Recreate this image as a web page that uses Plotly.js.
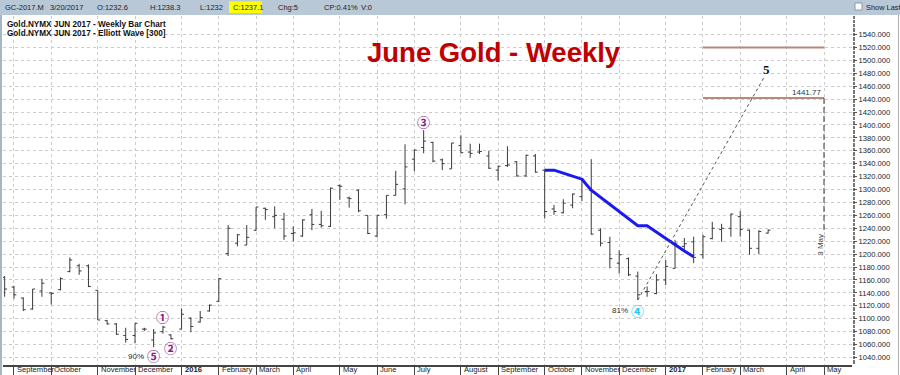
<!DOCTYPE html>
<html><head><meta charset="utf-8">
<script src="https://cdn.plot.ly/plotly-3.0.1.min.js"></script>
<style>html,body{margin:0;padding:0;background:#fff}#chart{width:900px;height:375px}</style>
</head><body><div id="chart"></div>
<script>
// ---- weekly bars (week ending Friday) ----
const dates = ["2015-08-28","2015-09-04","2015-09-11","2015-09-18","2015-09-25","2015-10-02","2015-10-09","2015-10-16","2015-10-23","2015-10-30",
"2015-11-06","2015-11-13","2015-11-20","2015-11-27","2015-12-04","2015-12-11","2015-12-18","2015-12-25","2015-12-31",
"2016-01-08","2016-01-15","2016-01-22","2016-01-29","2016-02-05","2016-02-12","2016-02-19","2016-02-26","2016-03-04","2016-03-11","2016-03-18","2016-03-25",
"2016-04-01","2016-04-08","2016-04-15","2016-04-22","2016-04-29","2016-05-06","2016-05-13","2016-05-20","2016-05-27","2016-06-03","2016-06-10","2016-06-17","2016-06-24",
"2016-07-01","2016-07-08","2016-07-15","2016-07-22","2016-07-29","2016-08-05","2016-08-12","2016-08-19","2016-08-26","2016-09-02","2016-09-09","2016-09-16","2016-09-23","2016-09-30",
"2016-10-07","2016-10-14","2016-10-21","2016-10-28","2016-11-04","2016-11-11","2016-11-18","2016-11-25","2016-12-02","2016-12-09","2016-12-16","2016-12-23","2016-12-30",
"2017-01-06","2017-01-13","2017-01-20","2017-01-27","2017-02-03","2017-02-10","2017-02-17","2017-02-24","2017-03-03","2017-03-10","2017-03-17","2017-03-24"];
const open  = [1164,1149,1132,1115,1143,1140,1145,1173,1182,1182, 1144,1097,1092,1074,1074,1084,1067,1080,1075,
 1084,1101,1095,1112,1127,1201,1217,1214,1237,1271,1258,1254, 1232,1228,1261,1246,1243,1306,1287,1299,1260,1228,1261,1291,1301,
 1347,1365,1373,1346,1332,1368,1358,1358,1352,1330,1337,1343,1321,1352, 1330,1270,1264,1276,1289,1299,1237,1218,1186,1193,1166,1142,1139,
 1160,1178,1212,1219,1199,1224,1238,1240,1258,1237,1209,1232.6];
const high  = [1166,1151,1133,1146,1162,1141,1164,1195,1185,1184, 1144,1098,1093,1086,1093,1086,1084,1089,1076,
 1116,1102,1112,1122,1163,1245,1231,1245,1273,1272,1274,1264, 1243,1254,1270,1267,1303,1308,1289,1300,1260,1260,1291,1329,1370,
 1362,1392,1374,1348,1372,1384,1371,1371,1360,1337,1367,1344,1354,1355, 1331,1276,1285,1294,1317,1347,1240,1227,1206,1195,1173,1150,1169,
 1191,1222,1225,1227,1230,1250,1247,1263,1267,1238,1237,1238.3];
const low   = [1134,1131,1112,1114,1134,1122,1144,1172,1168,1149, 1098,1091,1075,1063,1062,1081,1056,1077,1068,
 1084,1079,1094,1111,1126,1197,1212,1214,1236,1253,1240,1222, 1220,1227,1237,1241,1242,1284,1272,1265,1231,1226,1255,1291,1277,
 1328,1356,1342,1330,1332,1356,1349,1355,1332,1314,1335,1320,1320,1326, 1255,1261,1263,1271,1282,1230,1212,1178,1170,1166,1129,1134,1138,
 1152,1178,1204,1186,1193,1223,1219,1227,1227,1199,1200,1232];
const close = [1146,1137,1114,1146,1155,1139,1162,1191,1174,1150, 1098,1092,1076,1068,1093,1084,1078,1087,1069,
 1107,1088,1102,1121,1162,1240,1230,1226,1273,1269,1260,1228, 1233,1253,1246,1244,1302,1305,1286,1267,1232,1260,1291,1308,1335,
 1361,1375,1344,1340,1372,1357,1356,1359,1333,1336,1338,1321,1353,1327, 1266,1266,1279,1293,1316,1231,1217,1193,1199,1168,1137,1142,1160,
 1181,1217,1216,1195,1227,1240,1240,1262,1238,1209,1235,1237.1];

// ---- blue line ----
const blueDates = ["2016-10-07","2016-10-14","2016-10-21","2016-10-28","2016-11-04","2016-11-11","2016-11-18","2016-11-25","2016-12-02","2016-12-09","2016-12-16","2016-12-23","2016-12-30","2017-01-06","2017-01-13","2017-01-20","2017-01-27"];
const blueVals  = [1330,1330,1325.5,1321,1316,1299,1288,1277,1266,1255,1244,1244,1234,1224,1214,1205,1196];

// ---- projection ----
const projDates = ["2016-12-16","2017-03-21"];
const projVals  = [1129,1474];
const targetStart = "2017-02-03";
const targetDate  = "2017-05-05";
const targetLevels = [1520, 1441.77];
const targetLabel = "1441.77";
const targetBottom = 1237;

// ---- wave labels ----
const waveText   = ["①","②","③","④","⑤"];
const waveDates  = ["2015-12-25","2015-12-31","2016-07-08","2016-12-16","2015-12-18"];
const wavePrices = [1103,1055.5,1406,1113.5,1042.5];
const waveColors = ["#8b1a8b","#8b1a8b","#8b1a8b","#1ec8f0","#8b1a8b"];
const pctText  = ["90%","81%"];
const pctDates = ["2015-12-18","2016-12-16"];
const pctPrices = [1042,1113.5];

// ---- axes ----
const tickDates = ["2015-09-04","2015-10-02","2015-11-06","2015-12-04","2016-01-08","2016-02-05","2016-03-04","2016-04-01","2016-05-06","2016-06-03","2016-07-01","2016-08-05","2016-09-02","2016-10-07","2016-11-04","2016-12-02","2017-01-06","2017-02-03","2017-03-03","2017-04-07","2017-05-05"];
const tickText = ["September","October","November","December","<b>2016</b>","February","March","April","May","June","July","August","September","October","November","December","<b>2017</b>","February","March","April","May"];
const yTicks = [];
for (let v = 1040; v <= 1540; v += 20) yTicks.push(v);

// header values
const header = [["GC-2017.M",3],["3/20/2017",48],["O:1232.6",95],["H:1238.3",148],["L:1232",198],["C:1237.1",231],["Chg:5",276],["CP:0.41%",322],["V:0",359]];

// ---- pixel helpers for decorations ----
const L = 3, R = 852, T = 16, B = 365;
const px = x => (x - L) / (R - L);
const py = y => (B - y) / (B - T);
const F = "Liberation Sans, Arial, sans-serif";

const traces = [
  {type:"ohlc", x:dates, open:open, high:high, low:low, close:close,
   increasing:{line:{color:"#3a3a3a", width:1}}, decreasing:{line:{color:"#3a3a3a", width:1}},
   tickwidth:0.3, hoverinfo:"skip", showlegend:false},
  {type:"scatter", mode:"lines", x:blueDates, y:blueVals, line:{color:"#1a1aef", width:3}, hoverinfo:"skip", showlegend:false},
  {type:"scatter", mode:"lines", x:projDates, y:projVals, line:{color:"#555", width:1, dash:"dot"}, hoverinfo:"skip", showlegend:false}
];

const shapes = [
  {type:"rect", xref:"paper", yref:"paper", x0:px(0), x1:px(900), y0:py(15), y1:py(0), fillcolor:"#b9c8d7", line:{width:0}, layer:"above"},
  {type:"rect", xref:"paper", yref:"paper", x0:px(229), x1:px(262), y0:py(13), y1:py(1.5), fillcolor:"#ffff00", line:{width:0}, layer:"above"},
  {type:"rect", xref:"paper", yref:"paper", x0:px(855), x1:px(862), y0:py(10), y1:py(3), fillcolor:"#ffffff", line:{width:1, color:"#8899aa"}, layer:"above"},
  {type:"rect", xref:"paper", yref:"paper", x0:px(0), x1:px(2), y0:py(375), y1:py(15), fillcolor:"#a8b6c4", line:{width:0}, layer:"above"},
  {type:"line", xref:"paper", yref:"paper", x0:px(898.5), x1:px(898.5), y0:py(375), y1:py(15), line:{width:1, color:"#b0b0b0"}, layer:"above"},
  {type:"line", xref:"x", yref:"y", x0:targetStart, x1:targetDate, y0:targetLevels[0], y1:targetLevels[0], line:{color:"#b88a7a", width:2}},
  {type:"line", xref:"x", yref:"y", x0:targetStart, x1:targetDate, y0:targetLevels[1], y1:targetLevels[1], line:{color:"#b88a7a", width:2}},
  {type:"line", xref:"x", yref:"y", x0:targetDate, x1:targetDate, y0:targetLevels[1], y1:targetBottom, line:{color:"#333", width:1, dash:"6px,3px"}}
];

const annotations = [];
header.forEach(h => annotations.push({xref:"paper", yref:"paper", x:px(h[1]), y:py(7.5), xanchor:"left", yanchor:"middle", text:h[0], showarrow:false, font:{family:F, size:7.5, color:"#222"}}));
annotations.push({xref:"paper", yref:"paper", x:px(864), y:py(7.5), xanchor:"left", yanchor:"middle", text:"Show Last", showarrow:false, font:{family:F, size:7.4, color:"#222"}});
annotations.push({xref:"paper", yref:"paper", x:px(5), y:py(24.5), xanchor:"left", yanchor:"middle", text:"<b>Gold.NYMX JUN 2017 - Weekly Bar Chart</b>", showarrow:false, font:{family:F, size:8.2, color:"#111"}});
annotations.push({xref:"paper", yref:"paper", x:px(5), y:py(33.5), xanchor:"left", yanchor:"middle", text:"<b>Gold.NYMX JUN 2017 - Elliott Wave [300]</b>", showarrow:false, font:{family:F, size:8.2, color:"#111"}});
annotations.push({xref:"paper", yref:"paper", x:px(493.5), y:py(52), xanchor:"center", yanchor:"middle", text:"<b>June Gold - Weekly</b>", showarrow:false, font:{family:F, size:27.5, color:"#c00000"}});
// x-axis month labels, left-aligned next to each tick
tickDates.forEach((d,i) => annotations.push({x:d, xref:"x", yref:"paper", y:py(369.8), text:tickText[i], showarrow:false, xanchor:"left", yanchor:"middle", xshift:1, font:{family:F, size:7.6, color:"#222"}}));
waveText.forEach((t,i) => annotations.push({x:waveDates[i], y:wavePrices[i], text:"<b>"+t+"</b>", showarrow:false, xanchor:"center", yanchor:"middle", font:{family:"Noto Sans CJK JP, DejaVu Sans", size:13, color:waveColors[i]}}));
pctText.forEach((t,i) => annotations.push({x:pctDates[i], y:pctPrices[i], text:t, showarrow:false, xanchor:"right", yanchor:"middle", xshift:-8, font:{family:F, size:8, color:"#333"}}));
annotations.push({x:projDates[1], y:projVals[1], text:"<b>5</b>", showarrow:false, xanchor:"center", yanchor:"bottom", xshift:2, yshift:-2, font:{family:"Liberation Serif, serif", size:13, color:"#111"}});
annotations.push({x:targetDate, y:targetLevels[1], text:targetLabel, showarrow:false, xanchor:"right", yanchor:"bottom", xshift:-1, yshift:-1, font:{family:F, size:8, color:"#333"}});
annotations.push({x:targetDate, y:targetBottom, text:"3 May", showarrow:false, textangle:-90, xanchor:"right", yanchor:"top", xshift:3, yshift:-2, font:{family:F, size:8, color:"#444"}});

const layout = {
  width:900, height:375, margin:{l:L, r:900-R, t:T, b:375-B, pad:0},
  paper_bgcolor:"#ffffff", plot_bgcolor:"#ffffff", showlegend:false, dragmode:false,
  xaxis:{type:"date", range:["2015-08-26 18:00","2017-05-26 01:00"], tickmode:"array", tickvals:tickDates, ticktext:tickText,
    showticklabels:false, showgrid:true, gridcolor:"#cccccc", griddash:"3px,3px", gridwidth:1,
    ticks:"outside", ticklen:8, tickcolor:"#444", tickwidth:1,
    showline:true, linecolor:"#444", linewidth:1.5, zeroline:false, rangeslider:{visible:false}, fixedrange:true},
  yaxis:{side:"right", range:[1028.4,1568.6], tickmode:"array", tickvals:yTicks, tickformat:".3f",
    showgrid:true, gridcolor:"#cccccc", griddash:"3px,3px", gridwidth:1,
    ticks:"outside", ticklen:4, tickcolor:"#555", tickfont:{family:F, size:7.6, color:"#222"},
    minor:{tickmode:"linear", tick0:1040, dtick:2, ticks:"outside", ticklen:2, tickcolor:"#777", showgrid:false},
    showline:false, zeroline:false, fixedrange:true},
  shapes:shapes, annotations:annotations
};
Plotly.newPlot("chart", traces, layout, {staticPlot:true, displayModeBar:false});
</script></body></html>
